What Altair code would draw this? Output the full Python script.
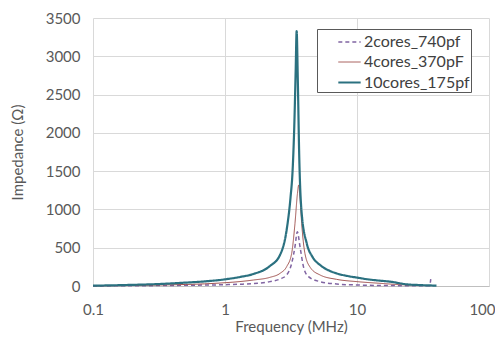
import altair as alt
import pandas as pd

series_names = ["2cores_740pf", "4cores_370pF", "10cores_175pf"]
colors = ["#8064A2", "#A0524F", "#2B7180"]

f_2c = [0.1, 0.2, 0.3, 0.5, 0.7, 1.0, 1.3, 1.64, 2.19, 2.61, 2.93, 3.2, 3.39, 3.53, 3.70, 3.94, 4.29, 5.25, 7.0, 10, 15, 25, 35.5, 36.2]
z_2c = [1, 3, 5, 9, 12, 17, 23, 31, 57, 91, 144, 296, 513, 709, 513, 244, 122, 57, 26, 13, 7, 4, 3, 90]

f_4c = [0.1, 0.2, 0.3, 0.5, 0.7, 1.0, 1.3, 1.64, 2.19, 2.61, 2.93, 3.2, 3.39, 3.54, 3.62, 3.70, 3.81, 4.03, 4.42, 5.25, 7.0, 10, 14.9, 20, 28, 36]
z_4c = [2, 7, 12, 20, 28, 43, 58, 78, 113, 165, 252, 427, 818, 1210, 1320, 1150, 818, 427, 244, 144, 87, 57, 35, 20, 10, 5]

f_10c = [0.1, 0.2, 0.3, 0.5, 0.7, 1.0, 1.3, 1.64, 2.19, 2.61, 2.93, 3.14, 3.25, 3.35, 3.43, 3.49, 3.56, 3.65, 3.81, 4.16, 4.6, 5.25, 6.0, 7.0, 8.5, 10, 12, 14.9, 17.8, 23.7, 30, 40]
z_10c = [4, 15, 24, 44, 60, 87, 118, 157, 261, 405, 731, 1166, 1500, 2100, 2800, 3330, 2700, 1700, 950, 557, 380, 274, 210, 165, 130, 110, 88, 70, 57, 22, 12, 5]

x_ticks = [0.1, 1, 10, 100]
y_ticks = [0, 500, 1000, 1500, 2000, 2500, 3000, 3500]

rows = []
for name, fs, zs in [(series_names[0], f_2c, z_2c), (series_names[1], f_4c, z_4c), (series_names[2], f_10c, z_10c)]:
    for i, (f, z) in enumerate(zip(fs, zs)):
        rows.append({"series": name, "freq": f, "imp": z, "idx": i})
df = pd.DataFrame(rows)

FONT = "Lato"
TXT = "#595959"

chart = alt.Chart(df).mark_line(interpolate="monotone").encode(
    x=alt.X("freq:Q", scale=alt.Scale(type="log", domain=[0.1, 100], nice=False),
            axis=alt.Axis(title="Frequency (MHz)", values=x_ticks, format="~g",
                          ticks=False, labelPadding=16, titlePadding=2, labelFlush=False,
                          labelAlign={"condition": {"test": "datum.value >= 100", "value": "right"}, "value": "center"},
                          labelOffset={"condition": {"test": "datum.value >= 100", "value": 6}, "value": 0},
                          domainColor="#BFBFBF", gridColor="#D9D9D9")),
    y=alt.Y("imp:Q", scale=alt.Scale(domain=[0, 3500], nice=False),
            axis=alt.Axis(title="Impedance (Ω)", values=y_ticks, format="d",
                          ticks=False, domain=False, labelPadding=13, titlePadding=20,
                          gridColor="#D9D9D9")),
    color=alt.Color("series:N", scale=alt.Scale(domain=series_names, range=colors),
                    legend=alt.Legend(title=None, orient="none", legendX=224, legendY=11,
                                      symbolType="stroke", symbolSize=500, symbolOffset=19,
                                      labelFontSize=16, labelFont=FONT, labelColor="#404040",
                                      strokeColor="#595959", padding=1, rowPadding=0,
                                      labelOffset=2, fillColor="white")),
    strokeDash=alt.StrokeDash("series:N", scale=alt.Scale(domain=series_names, range=[[4, 3], [1, 0], [1, 0]])),
    strokeWidth=alt.StrokeWidth("series:N", scale=alt.Scale(type="ordinal", domain=series_names, range=[1.5, 1, 2.2])),
    detail="series:N",
    order="idx:Q",
).properties(
    width=396, height=268,
    autosize=alt.AutoSizeParams(type="none"),
    padding={"left": 85, "top": 10, "right": 6, "bottom": 52},
).configure_view(stroke=None).configure_axis(
    labelFont=FONT, titleFont=FONT, labelFontSize=15, titleFontSize=15,
    labelColor=TXT, titleColor=TXT, titleFontWeight="normal",
)

chart.save("out.html", embed_options={"renderer": "svg", "actions": False})
